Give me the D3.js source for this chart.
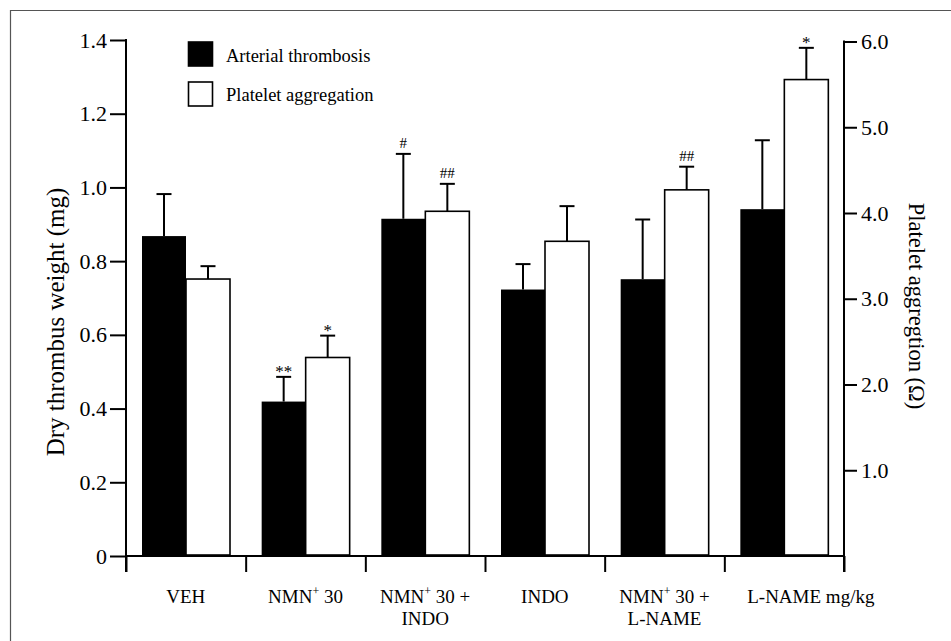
<!DOCTYPE html>
<html>
<head>
<meta charset="utf-8">
<script src="https://cdn.jsdelivr.net/npm/d3@7"></script>
<style>
  html, body { margin: 0; padding: 0; background: #fff; }
  svg { display: block; }
  text { font-family: "Liberation Serif", "Times New Roman", serif; fill: #000; }
</style>
</head>
<body>
<svg id="chart" width="951" height="641"></svg>
<script>
// ---- data ----
const categories = ["VEH", "NMN30", "NMN30_INDO", "INDO", "NMN30_LNAME", "LNAME"];
const seriesNames = ["Arterial thrombosis", "Platelet aggregation"];
// Arterial thrombosis: dry thrombus weight (mg), left axis
const thrombusMean = [0.868, 0.419, 0.915, 0.723, 0.751, 0.941];
const thrombusErr  = [0.114, 0.067, 0.176, 0.069, 0.162, 0.187];
const thrombusSig  = ["", "**", "#", "", "", ""];
// Platelet aggregation (Ω), right axis
const plateletMean = [3.23, 2.315, 4.02, 3.67, 4.27, 5.556];
const plateletErr  = [0.15, 0.255, 0.32, 0.41, 0.27, 0.37];
const plateletSig  = ["", "*", "##", "", "##", "*"];
const leftTicks = [0, 0.2, 0.4, 0.6, 0.8, 1.0, 1.2, 1.4];
const rightTicks = [1, 2, 3, 4, 5, 6];

const svg = d3.select("#chart");

// frame (cropped at right and bottom)
svg.append("line").attr("x1", 10).attr("x2", 951).attr("y1", 10.5).attr("y2", 10.5)
  .attr("stroke", "#555").attr("stroke-width", 1.2);
svg.append("line").attr("x1", 10.5).attr("x2", 10.5).attr("y1", 10).attr("y2", 641)
  .attr("stroke", "#555").attr("stroke-width", 1.2);

const x0 = 126, x1 = 844, yBase = 556;
const x = d3.scaleBand().domain(categories).range([x0, x1]).padding(0);
const xs = d3.scaleBand().domain(seriesNames).range([16, 104]).padding(0);
const xIdx = d3.scaleLinear().domain([0, categories.length]).range([x0, x1]);
const yL = d3.scaleLinear().domain([0, 1.4]).range([yBase, 40]);
const yR = d3.scaleLinear().domain([0, 6]).range([yBase, 41.5]);

// bars
const rows = categories.map((c, i) => ({
  c,
  t: { m: thrombusMean[i], e: thrombusErr[i], s: thrombusSig[i] },
  p: { m: plateletMean[i], e: plateletErr[i], s: plateletSig[i] }
}));

const g = svg.append("g");
// thrombosis (black)
g.selectAll("rect.t").data(rows).join("rect").attr("class", "t")
  .attr("x", d => x(d.c) + xs(seriesNames[0]))
  .attr("width", xs.bandwidth())
  .attr("y", d => yL(d.t.m))
  .attr("height", d => yBase - yL(d.t.m))
  .attr("fill", "#000");
// platelet (white)
g.selectAll("rect.p").data(rows).join("rect").attr("class", "p")
  .attr("x", d => x(d.c) + xs(seriesNames[1]))
  .attr("width", xs.bandwidth())
  .attr("y", d => yR(d.p.m))
  .attr("height", d => yBase - 1 - yR(d.p.m))
  .attr("fill", "#fff").attr("stroke", "#000").attr("stroke-width", 1.6);

// error bars
function errBars(key, scale, sname) {
  const cx = d => x(d.c) + xs(sname) + xs.bandwidth() / 2;
  g.selectAll("line.ev" + key).data(rows).join("line").attr("class", "ev" + key)
    .attr("x1", cx).attr("x2", cx)
    .attr("y1", d => scale(d[key].m)).attr("y2", d => scale(d[key].m + d[key].e))
    .attr("stroke", "#000").attr("stroke-width", 2);
  g.selectAll("line.ec" + key).data(rows).join("line").attr("class", "ec" + key)
    .attr("x1", d => cx(d) - 7.5).attr("x2", d => cx(d) + 7.5)
    .attr("y1", d => scale(d[key].m + d[key].e)).attr("y2", d => scale(d[key].m + d[key].e))
    .attr("stroke", "#000").attr("stroke-width", 2);
  g.selectAll("text.s" + key).data(rows.filter(d => d[key].s)).join("text").attr("class", "s" + key)
    .attr("x", cx)
    .attr("y", d => scale(d[key].m + d[key].e) - (d[key].s.includes("#") ? 5.5 : 0))
    .attr("text-anchor", "middle")
    .attr("font-size", d => d[key].s.includes("#") ? 15 : 17)
    .text(d => d[key].s);
}
errBars("t", yL, seriesNames[0]);
errBars("p", yR, seriesNames[1]);

// left axis
const axL = svg.append("g").attr("transform", `translate(${x0},0)`)
  .call(d3.axisLeft(yL).tickValues(leftTicks).tickSize(16).tickSizeOuter(0).tickPadding(3)
    .tickFormat(d => d === 0 ? "0" : d3.format(".1f")(d)));
axL.select(".domain").remove();
axL.selectAll(".tick line").attr("stroke-width", 2);
axL.selectAll(".tick text").attr("font-size", 22).attr("font-family", "Liberation Serif");
svg.append("line").attr("x1", x0).attr("x2", x0).attr("y1", 39).attr("y2", 572)
  .attr("stroke", "#000").attr("stroke-width", 2);

// right axis
const axR = svg.append("g").attr("transform", `translate(${x1},0)`)
  .call(d3.axisRight(yR).tickValues(rightTicks).tickSize(13).tickSizeOuter(0).tickPadding(4)
    .tickFormat(d3.format(".1f")));
axR.select(".domain").remove();
axR.selectAll(".tick line").attr("stroke-width", 2);
axR.selectAll(".tick text").attr("font-size", 22).attr("font-family", "Liberation Serif");
svg.append("line").attr("x1", x1).attr("x2", x1).attr("y1", 40.5).attr("y2", 572)
  .attr("stroke", "#000").attr("stroke-width", 2);

// bottom axis
const axB = svg.append("g").attr("transform", `translate(0,${yBase})`)
  .call(d3.axisBottom(xIdx).tickValues(d3.range(categories.length + 1)).tickSize(16).tickSizeOuter(0).tickFormat(""));
axB.select(".domain").remove();
axB.selectAll(".tick line").attr("stroke-width", 2);
svg.append("line").attr("x1", x0).attr("x2", x1).attr("y1", yBase).attr("y2", yBase)
  .attr("stroke", "#000").attr("stroke-width", 2);

// category labels
const labelLines = {
  VEH: [[["VEH", false]]],
  NMN30: [[["NMN", false], ["+", true], [" 30", false]]],
  NMN30_INDO: [[["NMN", false], ["+", true], [" 30 +", false]], [["INDO", false]]],
  INDO: [[["INDO", false]]],
  NMN30_LNAME: [[["NMN", false], ["+", true], [" 30 +", false]], [["L-NAME", false]]],
  LNAME: [[["L-NAME", false]]]
};
const labG = svg.append("g").attr("font-size", 19);
categories.forEach(c => {
  const cxm = x(c) + x.bandwidth() / 2;
  labelLines[c].forEach((line, li) => {
    const t = labG.append("text").attr("x", cxm).attr("y", 603 + li * 22).attr("text-anchor", "middle");
    line.forEach(([s, sup]) => {
      const ts = t.append("tspan").text(s);
      if (sup) ts.attr("font-size", 12).attr("dy", -8);
      else if (t.selectAll("tspan").size() > 1) ts.attr("dy", 8);
    });
  });
});
// "mg/kg" appended after the last category label
{
  const c = categories[categories.length - 1];
  const cxm = x(c) + x.bandwidth() / 2;
  const tmp = labG.append("text").text("L-NAME");
  const w = tmp.node().getComputedTextLength();
  tmp.remove();
  labG.append("text").attr("x", cxm + w / 2).attr("y", 603).text(" mg/kg").attr("xml:space", "preserve")
    .style("white-space", "pre");
}

// axis titles
svg.append("text").attr("transform", "translate(64,322) rotate(-90)")
  .attr("text-anchor", "middle").attr("font-size", 25).text("Dry thrombus weight (mg)");
svg.append("text").attr("transform", "translate(909,306) rotate(90)")
  .attr("text-anchor", "middle").attr("font-size", 22.5).text("Platelet aggregtion (Ω)");

// legend
const lg = svg.append("g");
seriesNames.forEach((s, i) => {
  lg.append("rect").attr("x", 188.5).attr("y", 42 + i * 40).attr("width", 24).attr("height", 24)
    .attr("fill", i === 0 ? "#000" : "#fff").attr("stroke", "#000").attr("stroke-width", 1.6);
  lg.append("text").attr("x", 226).attr("y", 61.5 + i * 39.5).attr("font-size", 18.5).text(s);
});
</script>
</body>
</html>
